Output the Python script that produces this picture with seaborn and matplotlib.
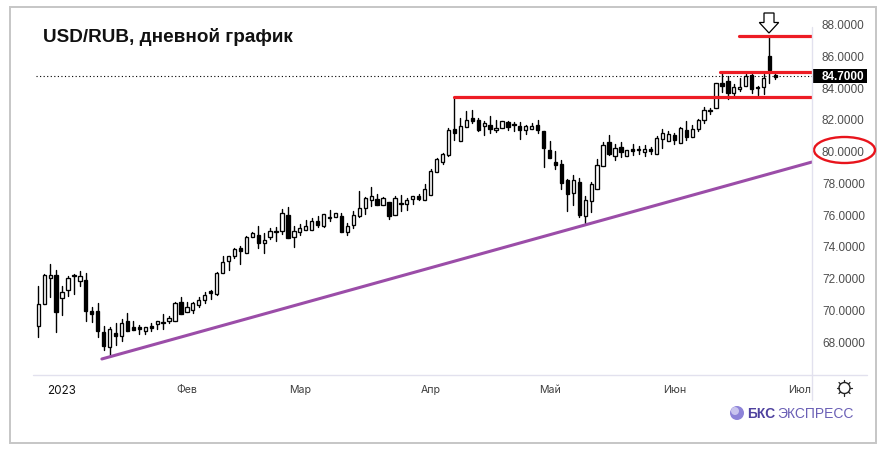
import numpy as np
import pandas as pd
import seaborn as sns
import matplotlib.pyplot as plt
from matplotlib.lines import Line2D
from matplotlib.patches import Ellipse, Polygon, Rectangle

# daily candles
opens = [68.97, 70.35, 71.99, 72.14, 70.73, 71.24, 72.12, 71.80, 71.84, 69.89,
         69.89, 68.55, 67.64, 68.50, 68.34, 69.26, 68.88, 68.88, 68.65, 68.95,
         69.05, 69.16, 69.28, 69.28, 70.44, 69.81, 69.97, 70.29, 70.56, 71.15,
         70.98, 72.26, 73.02, 73.34, 73.84, 73.53, 74.53, 74.66, 74.16, 74.53,
         74.89, 74.91, 75.92, 74.58, 74.89, 74.97, 74.97, 75.54, 75.27, 75.77,
         75.79, 75.86, 74.89, 75.29, 75.86, 76.36, 76.87, 76.93, 76.55, 76.74,
         75.96, 76.68, 76.61, 76.93, 77.14, 76.87, 77.22, 78.67, 79.30, 79.74,
         81.34, 80.63, 81.47, 82.03, 81.91, 81.53, 81.59, 81.28, 81.40, 81.78,
         81.68, 81.53, 81.28, 81.34, 81.59, 81.21, 80.04, 79.28, 79.13, 78.13,
         77.31, 78.00, 75.90, 76.84, 77.60, 79.01, 80.52, 79.68, 80.21, 79.68,
         80.10, 80.06, 79.89, 80.10, 79.81, 80.71, 80.58, 80.98, 80.50, 81.28,
         80.88, 81.34, 81.91, 82.50, 82.66, 84.24, 84.37, 83.65, 83.88, 84.09,
         84.74, 84.01, 83.99, 85.96, 84.74]
closes = [70.31, 72.14, 72.14, 69.85, 71.07, 71.95, 72.16, 72.08, 69.91, 69.70,
          68.65, 67.71, 68.74, 68.34, 69.11, 68.65, 68.71, 68.78, 68.86, 68.84,
          69.24, 69.20, 69.43, 70.37, 69.72, 70.12, 70.37, 70.56, 70.88, 71.05,
          72.26, 72.96, 73.34, 73.78, 73.69, 74.53, 74.79, 74.20, 74.39, 74.95,
          74.91, 76.05, 74.51, 74.91, 75.10, 75.23, 75.54, 75.33, 75.98, 75.82,
          76.05, 74.89, 75.23, 75.92, 76.36, 76.99, 77.12, 76.59, 76.99, 75.90,
          76.99, 76.61, 76.87, 77.12, 76.95, 77.56, 78.69, 79.45, 79.76, 81.28,
          81.09, 81.53, 81.91, 81.89, 81.32, 81.72, 81.34, 81.40, 81.84, 81.47,
          81.59, 81.28, 81.53, 81.53, 81.28, 80.18, 79.55, 79.09, 77.98, 77.29,
          78.13, 75.96, 76.87, 77.87, 79.07, 80.33, 79.81, 80.14, 79.93, 80.06,
          80.00, 80.10, 80.08, 80.00, 80.77, 81.09, 81.03, 80.67, 81.40, 80.86,
          81.34, 81.91, 82.54, 82.54, 84.24, 84.09, 83.63, 84.03, 84.03, 84.72,
          83.90, 83.92, 84.60, 85.08, 84.62]
highs = [71.45, 72.22, 72.85, 72.47, 71.45, 72.08, 72.22, 72.41, 72.29, 70.14,
         70.39, 68.95, 68.86, 69.13, 69.39, 69.76, 69.26, 69.01, 68.86, 69.13,
         69.24, 69.68, 69.55, 70.44, 70.77, 70.46, 70.46, 70.75, 71.07, 71.24,
         72.33, 73.38, 73.34, 73.88, 73.97, 74.62, 74.85, 75.23, 74.81, 75.10,
         75.18, 76.32, 76.42, 75.25, 75.37, 75.63, 75.73, 75.88, 76.03, 76.26,
         76.05, 76.05, 75.42, 76.19, 77.45, 77.05, 77.71, 77.26, 77.05, 76.74,
         77.12, 77.18, 76.99, 77.12, 77.24, 77.87, 78.82, 79.51, 79.83, 81.40,
         83.36, 82.05, 82.47, 82.54, 82.03, 81.84, 82.16, 81.91, 81.84, 81.84,
         81.78, 81.78, 81.59, 81.72, 81.93, 81.24, 80.60, 79.97, 79.41, 78.19,
         78.44, 78.25, 77.12, 78.00, 79.47, 80.52, 80.98, 80.42, 80.54, 80.06,
         80.42, 80.29, 80.35, 80.23, 80.90, 81.36, 81.21, 81.11, 81.47, 81.87,
         81.61, 81.97, 82.73, 82.71, 84.24, 84.91, 84.70, 84.20, 84.58, 84.83,
         84.83, 84.09, 84.83, 87.14, 84.87]
lows = [68.27, 70.35, 70.79, 68.59, 69.64, 70.84, 70.96, 71.47, 69.26, 69.20,
        68.25, 67.43, 67.03, 67.75, 68.00, 68.65, 68.71, 68.46, 68.46, 68.65,
        68.78, 68.78, 69.16, 69.24, 69.72, 69.81, 69.79, 70.16, 70.42, 70.67,
        70.92, 72.26, 72.50, 73.21, 72.87, 73.53, 74.53, 73.88, 73.55, 74.43,
        74.30, 74.76, 74.51, 73.95, 74.70, 74.97, 74.97, 75.21, 75.21, 75.58,
        75.79, 74.89, 74.70, 75.14, 75.79, 76.00, 76.51, 76.59, 76.55, 75.71,
        75.96, 76.17, 76.28, 76.63, 76.89, 76.87, 77.22, 78.67, 79.18, 79.68,
        80.69, 80.63, 81.47, 81.76, 81.26, 81.00, 81.13, 81.19, 81.40, 81.28,
        81.26, 80.75, 81.07, 81.34, 81.13, 78.99, 79.55, 78.84, 77.58, 76.21,
        76.59, 75.84, 75.42, 76.15, 77.60, 79.01, 79.74, 79.43, 79.62, 79.68,
        79.72, 79.79, 79.66, 79.79, 79.81, 80.16, 80.58, 80.42, 80.50, 80.67,
        80.88, 81.26, 81.76, 82.29, 82.66, 83.71, 83.25, 83.50, 83.74, 84.09,
        83.65, 83.53, 83.57, 84.24, 84.51]

month_labels = ["2023", "Фев", "Мар", "Апр", "Май", "Июн", "Июл"]
month_days = [4, 25, 44, 66, 86, 107, 128]
price_ticks = [68, 70, 72, 74, 76, 78, 80, 82, 84, 86, 88]
last_price = 84.70

# levels and trend drawn on the chart
resistance_days, resistance_prices = [70, 131], [83.36, 83.36]
upper_days, upper_prices = [114.7, 131], [84.98, 84.98]
top_days, top_prices = [117.9, 131], [87.22, 87.22]
trend_days, trend_prices = [10.7, 130.15], [66.87, 79.28]
last_days = [-0.4, 131]

RED = "#ed1c24"
PURPLE = "#9b4da8"
PANE = "#e2e1ee"
W, H = 878, 452


def px(x, y):
    return x / W, 1 - y / H


sns.set_theme(style="white")
plt.rcParams["font.family"] = ["Liberation Sans", "DejaVu Sans"]

fig = plt.figure(figsize=(W / 100, H / 100), dpi=100)
ax = fig.add_axes([12 / W, 1 - 376 / H, 800 / W, 366 / H])

df = pd.DataFrame({"open": opens, "close": closes, "high": highs, "low": lows})
df["day"] = np.arange(len(df))
df["body"] = (df["close"] - df["open"]).abs()
df["base"] = df[["open", "close"]].min(axis=1)
up = df[df["close"] >= df["open"]]
down = df[df["close"] < df["open"]]

wicks = df.melt(id_vars="day", value_vars=["high", "low"], value_name="price")
sns.lineplot(data=wicks, x="day", y="price", units="day", estimator=None,
             color="black", linewidth=1.0, zorder=2, ax=ax)
for part, fill in [(up, "white"), (down, "black")]:
    sns.barplot(data=part, x="day", y="body", bottom=part["base"].to_numpy(),
                native_scale=True, color=fill, saturation=1, width=0.55,
                edgecolor="black", linewidth=0.95, errorbar=None, zorder=3, ax=ax)

sns.lineplot(x=last_days, y=[last_price, last_price], color="black", linewidth=0.8,
             linestyle=(0, (1, 2.2)), zorder=1, ax=ax)
sns.lineplot(x=trend_days, y=trend_prices, color=PURPLE, linewidth=2.2, zorder=4, ax=ax)
for days, prices in [(resistance_days, resistance_prices), (upper_days, upper_prices),
                     (top_days, top_prices)]:
    sns.lineplot(x=days, y=prices, color=RED, linewidth=2.3, zorder=4, ax=ax)

ax.set_xlim(-4.42, 130.15)
ax.set_ylim(65.86, 88.92)
ax.set_xlabel("")
ax.set_ylabel("")
ax.yaxis.tick_right()
ax.set_yticks(price_ticks)
ax.set_yticklabels(["%.4f" % p for p in price_ticks])
ax.set_xticks(month_days)
ax.set_xticklabels(month_labels, family=["Inter", "DejaVu Sans"])
ax.tick_params(axis="y", length=0, pad=7.2, labelsize=8.5, labelcolor="#4d4d4d")
ax.tick_params(axis="x", length=0, pad=6.4, labelsize=7.6, labelcolor="#3f3f3f")
ax.get_xticklabels()[0].set_fontsize(8.4)
ax.get_xticklabels()[0].set_color("#111111")
for side in ["top", "left", "right", "bottom"]:
    ax.spines[side].set_visible(False)

# current price tag on the scale
tag = ax.get_yaxis_transform()
ax.add_patch(Rectangle((1.0, last_price - 0.42), 55 / 800, 0.84, transform=tag,
                       facecolor="black", edgecolor="none", clip_on=False, zorder=6))
ax.text(1 + 10 / 800, last_price, "%.4f" % last_price, transform=tag, color="white",
        fontsize=8.5, fontweight="bold", va="center", ha="left", zorder=7)

# outer frame and pane separators
fig.add_artist(Rectangle(px(10, 444), 866 / W, 436 / H, transform=fig.transFigure,
                         facecolor="none", edgecolor="#c6c6c6", linewidth=1.4))
fig.add_artist(Line2D([33 / W, 867 / W], [px(0, 376)[1]] * 2, color=PANE, linewidth=1))
fig.add_artist(Line2D([812 / W, 812 / W], [px(0, 28)[1], px(0, 401)[1]], color=PANE, linewidth=1))

fig.text(*px(43.5, 37), "USD/RUB, дневной график", fontsize=13.6, fontweight="bold",
         color="#111111", va="center", ha="left")

# markup: arrow over the spike and ring round 80.0000
arrow = [(764, 14), (774, 14), (774, 23.5), (778.7, 23.5), (769, 34), (759.3, 23.5), (764, 23.5)]
fig.add_artist(Polygon([px(*p) for p in arrow], closed=True, transform=fig.transFigure,
                       facecolor="white", edgecolor="black", linewidth=0.9))
fig.add_artist(Ellipse(px(844.5, 151), 61 / W, 26 / H, transform=fig.transFigure,
                       facecolor="none", edgecolor="#e8141c", linewidth=1.7))

# settings icon
fig.add_artist(Ellipse(px(844.5, 389), 11 / W, 11 / H, transform=fig.transFigure,
                       facecolor="none", edgecolor="#222222", linewidth=1))
for a in np.arange(8) * np.pi / 4:
    p0 = px(844.5 + 5.6 * np.cos(a), 389 + 5.6 * np.sin(a))
    p1 = px(844.5 + 7.8 * np.cos(a), 389 + 7.8 * np.sin(a))
    fig.add_artist(Line2D([p0[0], p1[0]], [p0[1], p1[1]], color="#222222", linewidth=0.9))

# logo
fig.add_artist(Ellipse(px(737, 414), 14 / W, 14 / H, transform=fig.transFigure,
                       facecolor="#8d83d8", edgecolor="none"))
fig.add_artist(Ellipse(px(735, 412), 8 / W, 8 / H, transform=fig.transFigure,
                       facecolor="#c9c4ee", edgecolor="none"))
fig.text(*px(747.5, 414.5), "БКС", fontsize=10, fontweight="bold", color="#4f429f",
         va="center", ha="left")
fig.text(*px(777, 414.5), "ЭКСПРЕСС", fontsize=10, color="#6a5fb5", va="center", ha="left")

fig.savefig("out.png", dpi=100)
